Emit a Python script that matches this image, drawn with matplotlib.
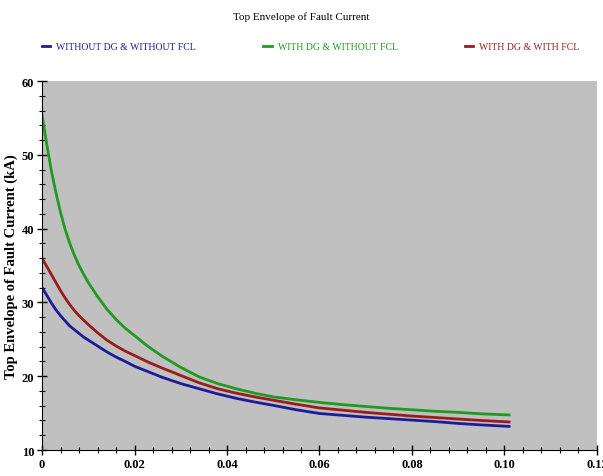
import matplotlib
matplotlib.use("Agg")
import matplotlib.pyplot as plt
from matplotlib.ticker import MultipleLocator

# time (s) and top envelope of fault current (kA)
t = [0, 0.001, 0.002, 0.003, 0.004, 0.005, 0.006, 0.007, 0.008, 0.009,
     0.010, 0.012, 0.014, 0.016, 0.018, 0.020, 0.023, 0.026, 0.030, 0.034,
     0.038, 0.042, 0.046, 0.050, 0.055, 0.060, 0.065, 0.070, 0.075, 0.080,
     0.085, 0.090, 0.095, 0.101]
no_dg_no_fcl = [32.0, 31.0, 29.95, 29.0, 28.2, 27.5, 26.8, 26.3, 25.8, 25.3,
                24.9, 24.1, 23.3, 22.6, 22.0, 21.35, 20.6, 19.85, 19.0, 18.3,
                17.6, 17.0, 16.5, 16.05, 15.45, 14.95, 14.7, 14.45, 14.25, 14.05,
                13.85, 13.6, 13.4, 13.2]
dg_no_fcl = [55.4, 51.5, 47.9, 44.9, 42.2, 39.9, 38.0, 36.4, 35.0, 33.8,
             32.7, 30.8, 29.1, 27.7, 26.5, 25.5, 24.0, 22.7, 21.2, 19.9,
             19.0, 18.3, 17.7, 17.2, 16.8, 16.45, 16.15, 15.9, 15.65, 15.45,
             15.25, 15.1, 14.9, 14.75]
dg_fcl = [36.0, 34.9, 33.8, 32.7, 31.6, 30.6, 29.7, 28.9, 28.2, 27.6,
          27.0, 25.9, 24.9, 24.1, 23.4, 22.8, 21.9, 21.1, 20.1, 19.1,
          18.3, 17.7, 17.2, 16.75, 16.2, 15.7, 15.4, 15.1, 14.85, 14.6,
          14.4, 14.2, 14.0, 13.8]

labels = ["WITHOUT DG & WITHOUT FCL", "WITH DG & WITHOUT FCL", "WITH DG & WITH FCL"]
colors = ["#1c1c9a", "#1f9a22", "#9a1c1c"]

xticks = [0, 0.02, 0.04, 0.06, 0.08, 0.10, 0.12]
xticklabels = ["0", "0.02", "0.04", "0.06", "0.08", "0.10", "0.12"]
yticks = [10, 20, 30, 40, 50, 60]

plt.rcParams['font.family'] = ['Liberation Serif', 'DejaVu Serif']

fig = plt.figure(figsize=(6.03, 4.77), dpi=100)
ax = fig.add_axes([0.0697, 0.0545, 0.9203, 0.7735])
ax.set_facecolor("#c0c0c0")

lines = []
for y, c, lab in zip([no_dg_no_fcl, dg_no_fcl, dg_fcl], colors, labels):
    ln, = ax.plot(t, y, color=c, lw=2, label=lab)
    lines.append(ln)

ax.set_xlim(0, 0.12)
ax.set_ylim(10, 60)
ax.set_xticks(xticks)
ax.set_xticklabels(xticklabels)
ax.set_yticks(yticks)
ax.xaxis.set_minor_locator(MultipleLocator(0.004))
ax.yaxis.set_minor_locator(MultipleLocator(2))
ax.tick_params(which='major', direction='inout', length=7, width=1,
               labelsize=9, pad=2)
ax.tick_params(which='minor', direction='inout', length=4, width=0.8)
for lbl in ax.get_xticklabels() + ax.get_yticklabels():
    lbl.set_fontweight('bold')

for side in ['top', 'right']:
    ax.spines[side].set_visible(False)

ax.set_ylabel("Top Envelope of Fault Current (kA)", fontsize=10.5,
              fontweight='bold', labelpad=3)

fig.text(0.5, 0.965, "Top Envelope of Fault Current", ha='center',
         va='center', fontsize=8)

fig.legend(handles=lines, loc='center', bbox_to_anchor=(0.515, 0.9),
           ncol=3, frameon=False, fontsize=7, handlelength=0.9,
           handletextpad=0.6, columnspacing=6.9, labelcolor='linecolor')

fig.savefig("out.png", dpi=100)
